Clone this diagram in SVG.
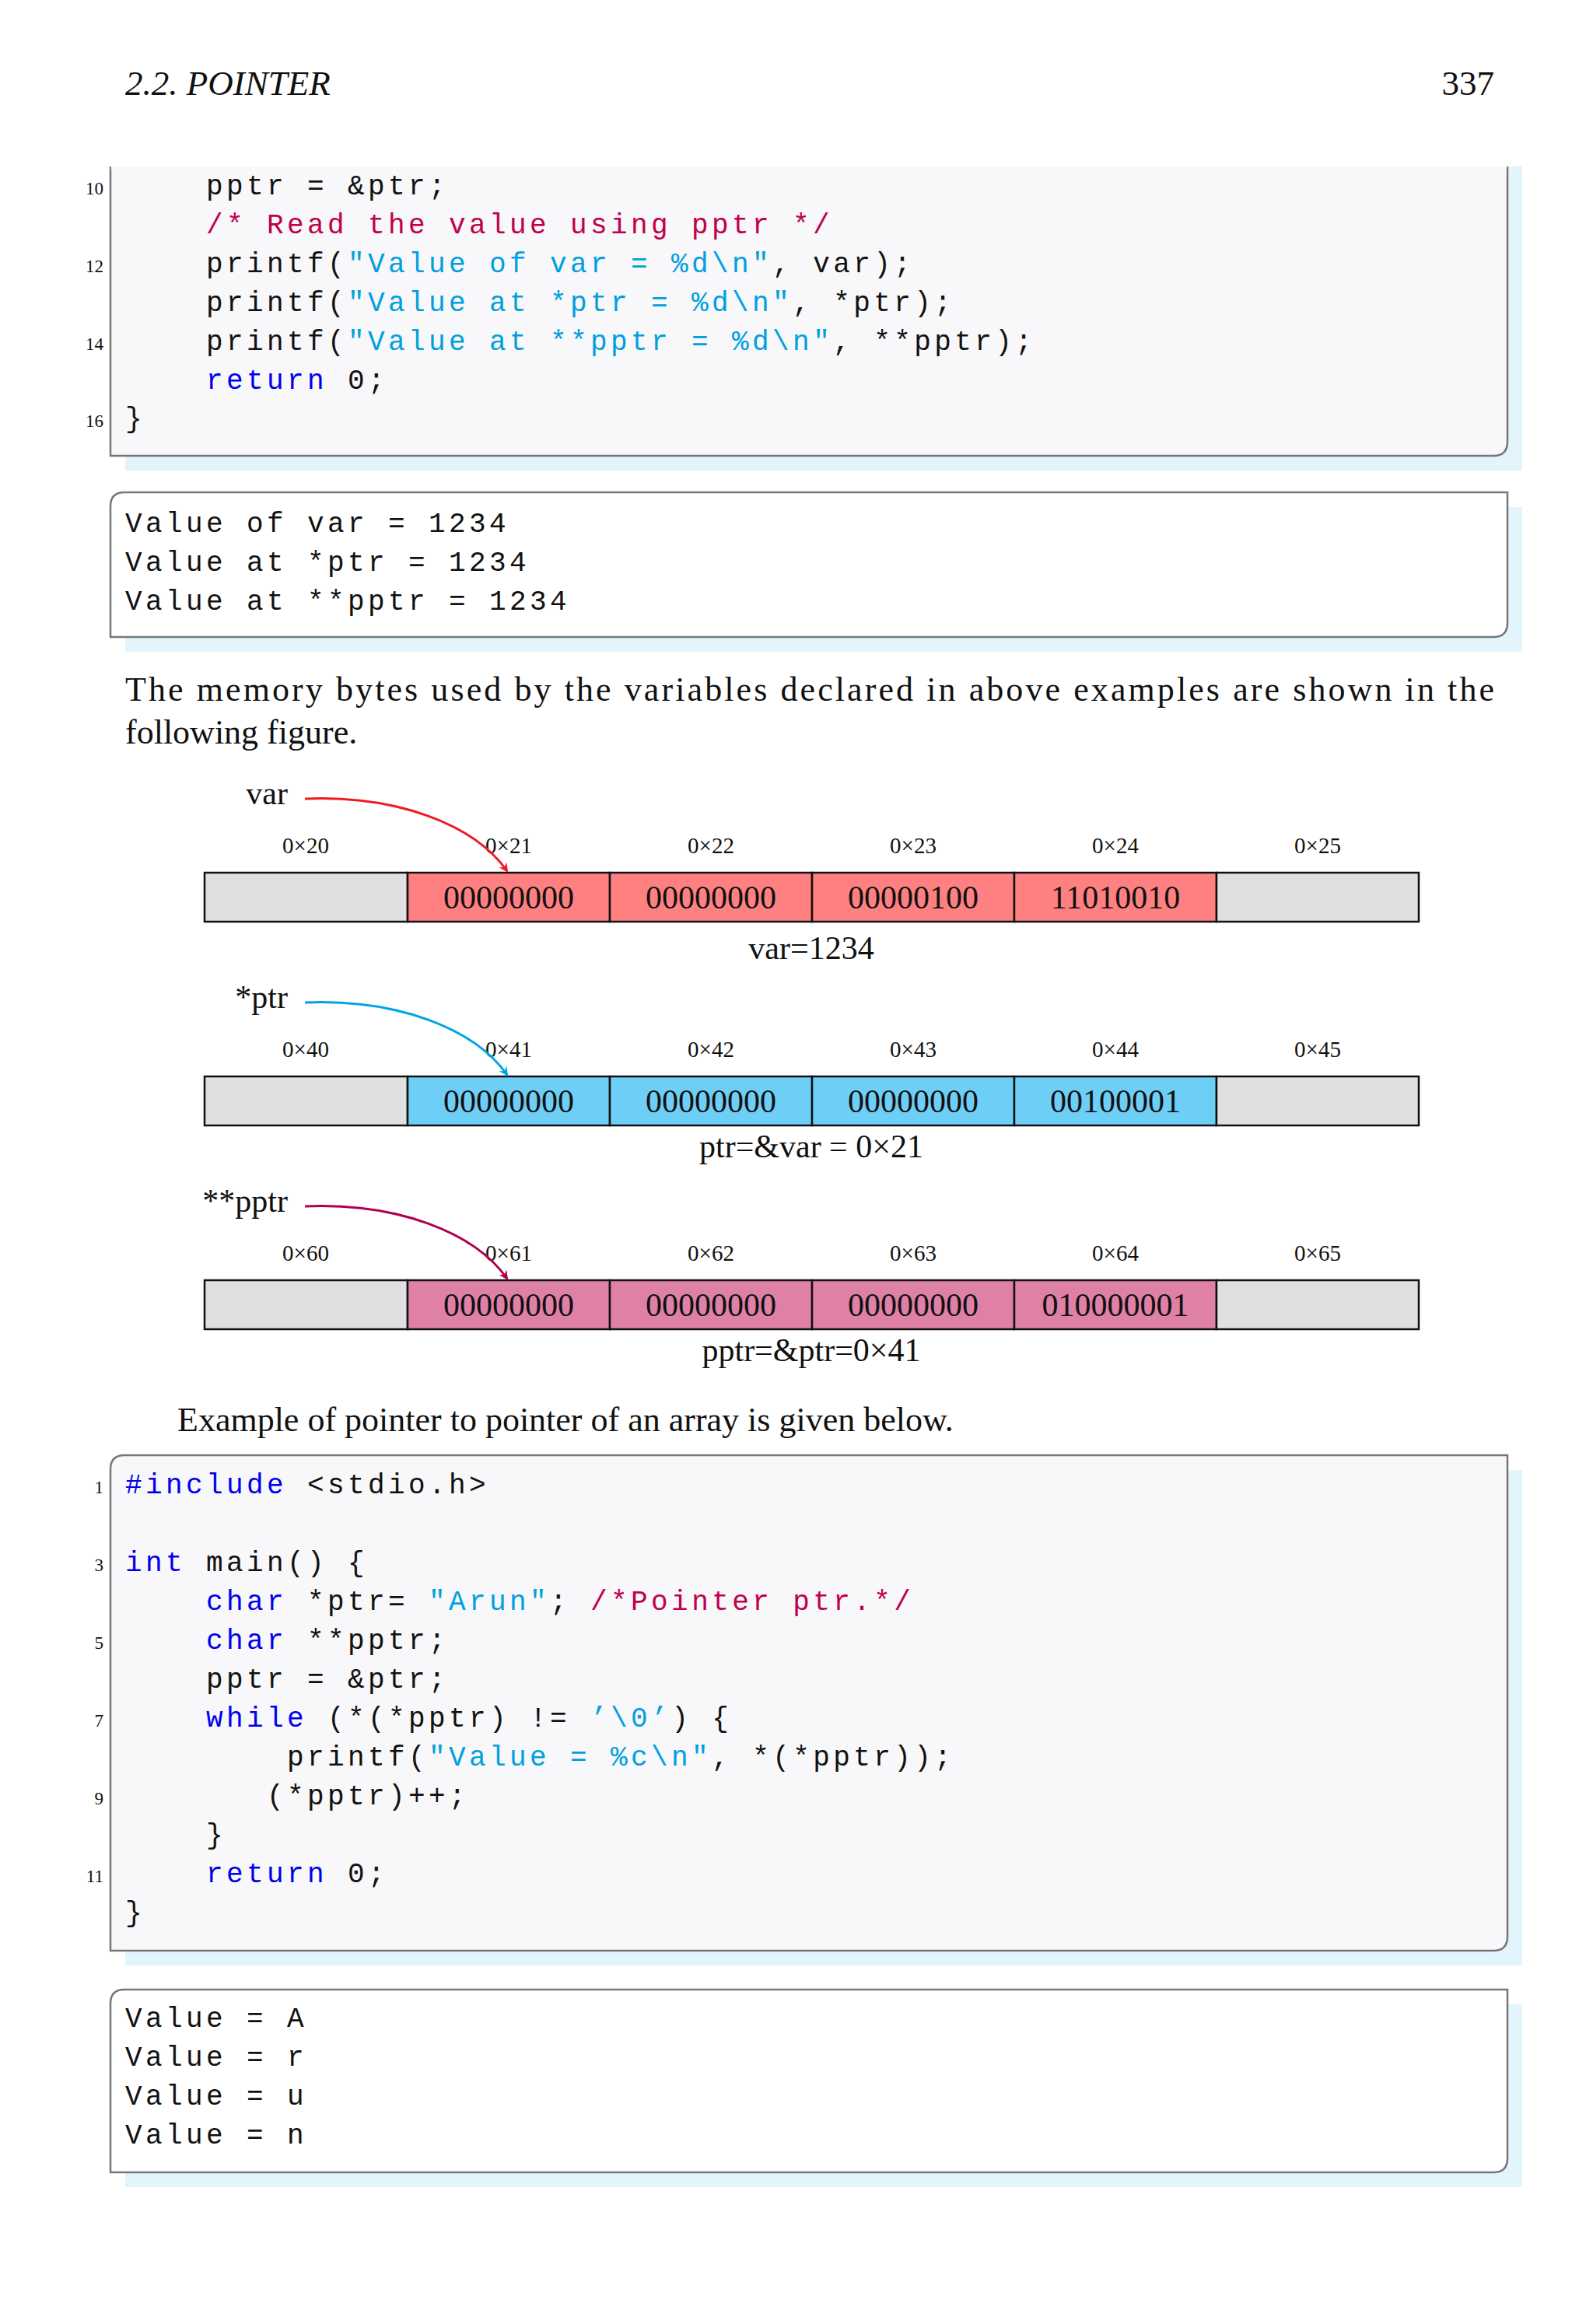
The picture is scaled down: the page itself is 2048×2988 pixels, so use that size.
<svg xmlns="http://www.w3.org/2000/svg" width="2048" height="2988" viewBox="0 0 2048 2988">
<style>
.serif{font-family:"Liberation Serif","DejaVu Serif",serif;fill:#111}
.code{font-family:"Liberation Mono","DejaVu Sans Mono",monospace;font-size:36px;letter-spacing:4.4px;fill:#111;white-space:pre}
.ln{font-family:"Liberation Serif",serif;font-size:23px;fill:#111;text-anchor:end}
.kw{fill:#0000ee}.str{fill:#00a0e0}.com{fill:#c0004b}
.shadow{fill:#e2f4fc}
.cbox{fill:#f8f7f9;stroke:#777;stroke-width:2.5}
.obox{fill:#fff;stroke:#777;stroke-width:2.5}
.addr{font-family:"Liberation Serif",serif;font-size:29px;fill:#111;text-anchor:middle}
.cell{stroke:#111;stroke-width:2.5}
.ct{font-family:"Liberation Serif",serif;font-size:42px;fill:#111;text-anchor:middle}
.lbl{font-family:"Liberation Serif",serif;font-size:42px;fill:#111}
.gray{fill:#e0dfe1}.red{fill:#fe8080}.cyan{fill:#6dcff6}.pink{fill:#df80a6}
</style>
<defs>
<marker id="ar" markerWidth="12" markerHeight="12" refX="10" refY="6" orient="auto" markerUnits="userSpaceOnUse"><path d="M0,0 L12,6 L0,12 L4,6 Z" fill="#ed1c24"/></marker>
<marker id="ac" markerWidth="12" markerHeight="12" refX="10" refY="6" orient="auto" markerUnits="userSpaceOnUse"><path d="M0,0 L12,6 L0,12 L4,6 Z" fill="#00a6e2"/></marker>
<marker id="am" markerWidth="12" markerHeight="12" refX="10" refY="6" orient="auto" markerUnits="userSpaceOnUse"><path d="M0,0 L12,6 L0,12 L4,6 Z" fill="#b00050"/></marker>
</defs>
<rect width="2048" height="2988" fill="#fff"/>
<text class="serif" x="161" y="122" font-size="45" font-style="italic">2.2.  POINTER</text>
<text class="serif" x="1921" y="122" font-size="45" text-anchor="end">337</text>

<g id="code1">
<rect class="shadow" x="161" y="214" width="1796" height="391"/>
<path class="cbox" d="M142,214 L142,586 L1920,586 Q1938,586 1938,568 L1938,214" />
<rect x="143" y="214" width="1794" height="4" fill="#f8f7f9"/>
<text class="ln" x="133" y="250">10</text><text class="ln" x="133" y="350">12</text><text class="ln" x="133" y="450">14</text><text class="ln" x="133" y="549">16</text>
<text class="code" x="161" y="250">    pptr = &amp;ptr;</text>
<text class="code" x="161" y="300">    <tspan class="com">/* Read the value using pptr */</tspan></text>
<text class="code" x="161" y="350">    printf(<tspan class="str">"Value of var = %d\n"</tspan>, var);</text>
<text class="code" x="161" y="400">    printf(<tspan class="str">"Value at *ptr = %d\n"</tspan>, *ptr);</text>
<text class="code" x="161" y="450">    printf(<tspan class="str">"Value at **pptr = %d\n"</tspan>, **pptr);</text>
<text class="code" x="161" y="500">    <tspan class="kw">return</tspan> 0;</text>
<text class="code" x="161" y="549">}</text>
</g>

<g id="out1">
<rect class="shadow" x="161" y="652" width="1796" height="186"/>
<path class="obox" d="M160,633 L1938,633 L1938,801 Q1938,819 1920,819 L142,819 L142,651 Q142,633 160,633 Z"/>
<text class="code" x="161" y="684">Value of var = 1234</text>
<text class="code" x="161" y="734">Value at *ptr = 1234</text>
<text class="code" x="161" y="784">Value at **pptr = 1234</text>
</g>

<text class="serif" x="161" y="901" font-size="44" textLength="1760" lengthAdjust="spacing">The memory bytes used by the variables declared in above examples are shown in the</text>
<text class="serif" x="161" y="956" font-size="44">following figure.</text>

<g id="row1">
<rect class="cell gray" x="263" y="1122" width="261" height="63"/>
<rect class="cell red" x="524" y="1122" width="260" height="63"/>
<rect class="cell red" x="784" y="1122" width="260" height="63"/>
<rect class="cell red" x="1044" y="1122" width="260" height="63"/>
<rect class="cell red" x="1304" y="1122" width="260" height="63"/>
<rect class="cell gray" x="1564" y="1122" width="260" height="63"/>
<text class="addr" x="393" y="1097">0×20</text><text class="addr" x="654" y="1097">0×21</text><text class="addr" x="914" y="1097">0×22</text><text class="addr" x="1174" y="1097">0×23</text><text class="addr" x="1434" y="1097">0×24</text><text class="addr" x="1694" y="1097">0×25</text>
<text class="ct" x="654" y="1168">00000000</text><text class="ct" x="914" y="1168">00000000</text><text class="ct" x="1174" y="1168">00000100</text><text class="ct" x="1434" y="1168">11010010</text>
<text class="ct" x="1043" y="1233">var=1234</text>
<text class="lbl" x="370" y="1034" text-anchor="end">var</text>
</g>
<g id="row2">
<rect class="cell gray" x="263" y="1384" width="261" height="63"/>
<rect class="cell cyan" x="524" y="1384" width="260" height="63"/>
<rect class="cell cyan" x="784" y="1384" width="260" height="63"/>
<rect class="cell cyan" x="1044" y="1384" width="260" height="63"/>
<rect class="cell cyan" x="1304" y="1384" width="260" height="63"/>
<rect class="cell gray" x="1564" y="1384" width="260" height="63"/>
<text class="addr" x="393" y="1359">0×40</text><text class="addr" x="654" y="1359">0×41</text><text class="addr" x="914" y="1359">0×42</text><text class="addr" x="1174" y="1359">0×43</text><text class="addr" x="1434" y="1359">0×44</text><text class="addr" x="1694" y="1359">0×45</text>
<text class="ct" x="654" y="1430">00000000</text><text class="ct" x="914" y="1430">00000000</text><text class="ct" x="1174" y="1430">00000000</text><text class="ct" x="1434" y="1430">00100001</text>
<text class="ct" x="1043" y="1488">ptr=&amp;var = 0×21</text>
<text class="lbl" x="370" y="1296" text-anchor="end">*ptr</text>
</g>
<g id="row3">
<rect class="cell gray" x="263" y="1646" width="261" height="63"/>
<rect class="cell pink" x="524" y="1646" width="260" height="63"/>
<rect class="cell pink" x="784" y="1646" width="260" height="63"/>
<rect class="cell pink" x="1044" y="1646" width="260" height="63"/>
<rect class="cell pink" x="1304" y="1646" width="260" height="63"/>
<rect class="cell gray" x="1564" y="1646" width="260" height="63"/>
<text class="addr" x="393" y="1621">0×60</text><text class="addr" x="654" y="1621">0×61</text><text class="addr" x="914" y="1621">0×62</text><text class="addr" x="1174" y="1621">0×63</text><text class="addr" x="1434" y="1621">0×64</text><text class="addr" x="1694" y="1621">0×65</text>
<text class="ct" x="654" y="1692">00000000</text><text class="ct" x="914" y="1692">00000000</text><text class="ct" x="1174" y="1692">00000000</text><text class="ct" x="1434" y="1692">010000001</text>
<text class="ct" x="1043" y="1750">pptr=&amp;ptr=0×41</text>
<text class="lbl" x="370" y="1558" text-anchor="end">**pptr</text>
</g>
<g id="connectors" fill="none" stroke-width="3">
<path d="M392,1027 C510,1022 610,1060 652,1120" stroke="#ed1c24" marker-end="url(#ar)"/>
<path d="M392,1289 C510,1284 610,1322 652,1382" stroke="#00a6e2" marker-end="url(#ac)"/>
<path d="M392,1551 C510,1546 610,1584 652,1644" stroke="#b00050" marker-end="url(#am)"/>
</g>

<text class="serif" x="228" y="1840" font-size="44">Example of pointer to pointer of an array is given below.</text>

<g id="code2">
<rect class="shadow" x="161" y="1890" width="1796" height="637"/>
<path class="cbox" d="M160,1871 L1938,1871 L1938,2490 Q1938,2508 1920,2508 L142,2508 L142,1889 Q142,1871 160,1871 Z"/>
<text class="ln" x="133" y="1920">1</text><text class="ln" x="133" y="2020">3</text><text class="ln" x="133" y="2120">5</text><text class="ln" x="133" y="2220">7</text><text class="ln" x="133" y="2320">9</text><text class="ln" x="133" y="2420">11</text>
<text class="code" x="161" y="1920"><tspan class="kw">#include</tspan> &lt;stdio.h&gt;</text>
<text class="code" x="161" y="2020"><tspan class="kw">int</tspan> main() {</text>
<text class="code" x="161" y="2070">    <tspan class="kw">char</tspan> *ptr= <tspan class="str">"Arun"</tspan>; <tspan class="com">/*Pointer ptr.*/</tspan></text>
<text class="code" x="161" y="2120">    <tspan class="kw">char</tspan> **pptr;</text>
<text class="code" x="161" y="2170">    pptr = &amp;ptr;</text>
<text class="code" x="161" y="2220">    <tspan class="kw">while</tspan> (*(*pptr) != <tspan class="str">’\0’</tspan>) {</text>
<text class="code" x="161" y="2270">        printf(<tspan class="str">"Value = %c\n"</tspan>, *(*pptr));</text>
<text class="code" x="161" y="2320">       (*pptr)++;</text>
<text class="code" x="161" y="2370">    }</text>
<text class="code" x="161" y="2420">    <tspan class="kw">return</tspan> 0;</text>
<text class="code" x="161" y="2470">}</text>
</g>

<g id="out2">
<rect class="shadow" x="161" y="2577" width="1796" height="235"/>
<path class="obox" d="M160,2558 L1938,2558 L1938,2775 Q1938,2793 1920,2793 L142,2793 L142,2576 Q142,2558 160,2558 Z"/>
<text class="code" x="161" y="2606">Value = A</text>
<text class="code" x="161" y="2656">Value = r</text>
<text class="code" x="161" y="2706">Value = u</text>
<text class="code" x="161" y="2756">Value = n</text>
</g>
</svg>
